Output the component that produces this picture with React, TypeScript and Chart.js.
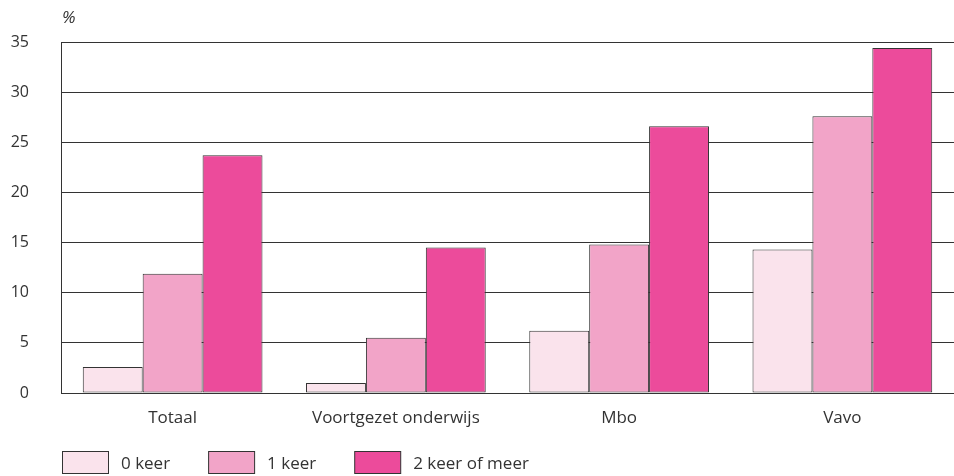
import React, { useEffect, useRef } from "react";
import { Chart, registerables } from "chart.js";

Chart.register(...registerables);

const categories = ["Totaal", "Voortgezet onderwijs", "Mbo", "Vavo"];
const seriesLabels = ["0 keer", "1 keer", "2 keer of meer"];
const keer0 = [2.6, 1.0, 6.2, 14.3];
const keer1 = [11.9, 5.5, 14.8, 27.6];
const keer2 = [23.7, 14.5, 26.6, 34.4];
const seriesColors = ["#FAE3EC", "#F2A4C8", "#EC4B9B"];
const yTicks = [0, 5, 10, 15, 20, 25, 30, 35];
const unitLabel = "%";

const FONT = "'Open Sans', sans-serif";
const TEXT = "#333333";
const LINE = "#333333";

const extrasPlugin = {
  id: "extras",
  afterDraw(chart: any) {
    const ctx = chart.ctx;
    const area = chart.chartArea;
    ctx.save();
    // unit label
    ctx.fillStyle = TEXT;
    ctx.font = `italic 17px ${FONT}`;
    ctx.textAlign = "left";
    ctx.textBaseline = "middle";
    ctx.fillText(unitLabel, area.left + 1, 18);
    // legend
    const boxW = 46;
    const boxH = 22;
    const y = 451;
    let x = area.left + 1;
    ctx.font = `17px ${FONT}`;
    chart.data.datasets.forEach((ds: any) => {
      ctx.fillStyle = ds.backgroundColor;
      ctx.fillRect(x + 0.5, y + 0.5, boxW, boxH);
      ctx.strokeStyle = LINE;
      ctx.lineWidth = 1;
      ctx.strokeRect(x + 0.5, y + 0.5, boxW, boxH);
      ctx.fillStyle = TEXT;
      ctx.textBaseline = "middle";
      const tx = x + boxW + 13;
      ctx.fillText(ds.label, tx, y + boxH / 2 + 2);
      const w = ctx.measureText(ds.label).width;
      x = tx + w + 38;
    });
    ctx.restore();
  },
};

export default function App() {
  const ref = useRef<HTMLCanvasElement | null>(null);
  useEffect(() => {
    document.body.style.margin = "0";
    const data = [keer0, keer1, keer2];
    const chart = new Chart(ref.current as HTMLCanvasElement, {
      type: "bar",
      data: {
        labels: categories,
        datasets: seriesLabels.map((label, i) => ({
          label,
          data: data[i],
          backgroundColor: seriesColors[i],
          borderColor: LINE,
          borderWidth: 1,
          borderSkipped: false,
          categoryPercentage: 0.805,
          barPercentage: 1.0,
        })),
      },
      options: {
        animation: false,
        responsive: false,
        maintainAspectRatio: false,
        layout: { padding: { left: 0, right: 0, top: 42, bottom: 49 } },
        plugins: {
          legend: { display: false },
          tooltip: { enabled: false },
          title: { display: false },
        },
        scales: {
          x: {
            grid: { display: false, drawTicks: false },
            border: { display: true, color: LINE, width: 1 },
            ticks: {
              color: TEXT,
              font: { family: FONT, size: 17 },
              padding: 15,
            },
            afterFit(axis: any) {
              axis.height = 34;
            },
          },
          y: {
            min: 0,
            max: 35,
            afterBuildTicks(axis: any) {
              axis.ticks = yTicks.map((v) => ({ value: v }));
            },
            grid: { color: LINE, lineWidth: 1, drawTicks: false },
            border: { display: true, color: LINE, width: 1 },
            ticks: {
              color: TEXT,
              font: { family: FONT, size: 16 },
              padding: 32,
            },
            afterFit(axis: any) {
              axis.width = 61;
            },
          },
        },
      },
      plugins: [extrasPlugin],
    });
    return () => chart.destroy();
  }, []);
  return (
    <div style={{ width: 954, height: 476 }}>
      <canvas ref={ref} width={954} height={476} style={{ display: "block" }} />
    </div>
  );
}
